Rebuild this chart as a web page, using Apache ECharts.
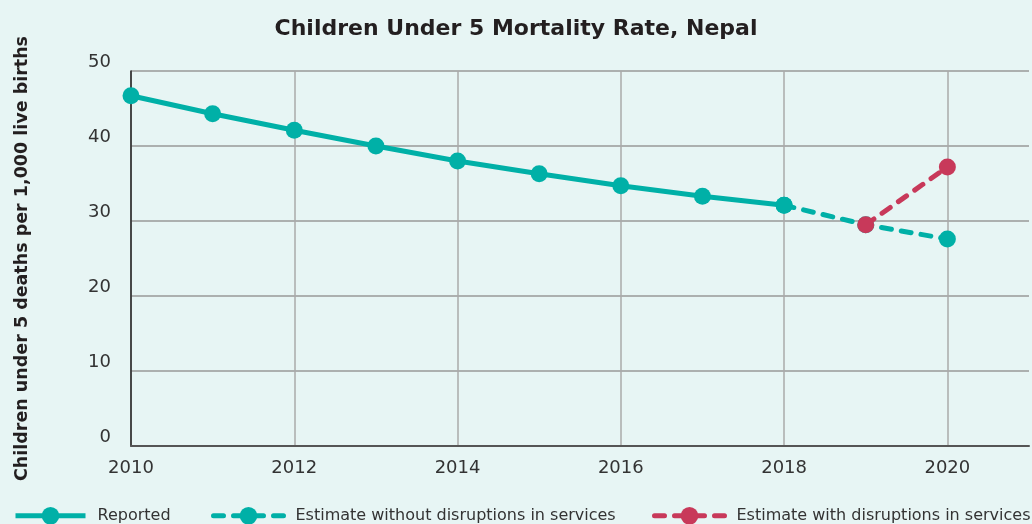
<!DOCTYPE html>
<html><head><meta charset="utf-8">
<script src="https://cdn.jsdelivr.net/npm/echarts@6/dist/echarts.min.js"></script>
<style>html,body{margin:0;padding:0;background:#e7f5f4}#c{width:1032px;height:524px}</style>
</head><body><div id="c"></div>
<script>
const years = ['2010','2011','2012','2013','2014','2015','2016','2017','2018','2019','2020','2021'];
const reportedYears = ['2010','2011','2012','2013','2014','2015','2016','2017','2018'];
const reported = [46.7, 44.3, 42.1, 40.0, 38.0, 36.3, 34.7, 33.3, 32.1];
const withoutYears = ['2018','2019','2020'];
const withoutDisruptions = [32.1, 29.5, 27.6];
const withYears = ['2019','2020'];
const withDisruptions = [29.5, 37.2];
const yTicks = [0, 10, 20, 30, 40, 50];

const teal = '#00b0a7', red = '#c8395a';
const font = 'DejaVu Sans';
const pair = (xs, vs) => xs.map((x, i) => [x, vs[i]]);
const legendBase = {top: 507, padding: 0, itemWidth: 70, itemHeight: 22,
  lineStyle: {width: 5},
  textStyle: {fontFamily: font, fontSize: 16, color: '#333', padding: [0,0,0,7]}};

const chart = echarts.init(document.getElementById('c'));
chart.setOption({
  backgroundColor: '#e7f5f4',
  title: {text: 'Children Under 5 Mortality Rate, Nepal', left: 'center', top: 13,
    textStyle: {fontFamily: font, fontWeight: 'bold', fontSize: 22, color: '#231f20'}},
  legend: [
    Object.assign({left: 13, data: ['Reported']}, legendBase),
    Object.assign({left: 211, data: ['Estimate without disruptions in services']}, legendBase),
    Object.assign({left: 652, data: ['Estimate with disruptions in services']}, legendBase)
  ],
  grid: {left: 131, right: 3, top: 71, bottom: 78, containLabel: false},
  xAxis: {type: 'category', data: years, boundaryGap: false,
    axisLine: {lineStyle: {color: '#555', width: 2}},
    axisTick: {show: false},
    axisLabel: {interval: 1, fontFamily: font, fontSize: 18, color: '#333', margin: 13},
    splitLine: {show: true, interval: 1, lineStyle: {color: '#aaa', width: 1.5}}},
  yAxis: {type: 'value', min: yTicks[0], max: yTicks[yTicks.length-1], interval: 10,
    name: 'Children under 5 deaths per 1,000 live births', nameLocation: 'middle', nameGap: 100,
    nameTextStyle: {fontFamily: font, fontWeight: 'bold', fontSize: 17.5, color: '#231f20'},
    axisLine: {show: true, lineStyle: {color: '#222', width: 1.5}},
    axisTick: {show: false},
    axisLabel: {fontFamily: font, fontSize: 18, color: '#333', margin: 20, verticalAlign: 'bottom'},
    splitLine: {lineStyle: {color: '#999', width: 1.5}}},
  series: [
    {name: 'Reported', type: 'line', data: pair(reportedYears, reported), symbol: 'circle', symbolSize: 17,
      itemStyle: {color: teal}, lineStyle: {color: teal, width: 5}, z: 3},
    {name: 'Estimate without disruptions in services', type: 'line', data: pair(withoutYears, withoutDisruptions),
      symbol: 'circle', symbolSize: 17, itemStyle: {color: teal},
      lineStyle: {color: teal, width: 5, type: [10, 10], cap: 'round'}, z: 2},
    {name: 'Estimate with disruptions in services', type: 'line', data: pair(withYears, withDisruptions),
      symbol: 'circle', symbolSize: 17, itemStyle: {color: red},
      lineStyle: {color: red, width: 5, type: [10, 10], cap: 'round'}, z: 4}
  ]
});
</script></body></html>
